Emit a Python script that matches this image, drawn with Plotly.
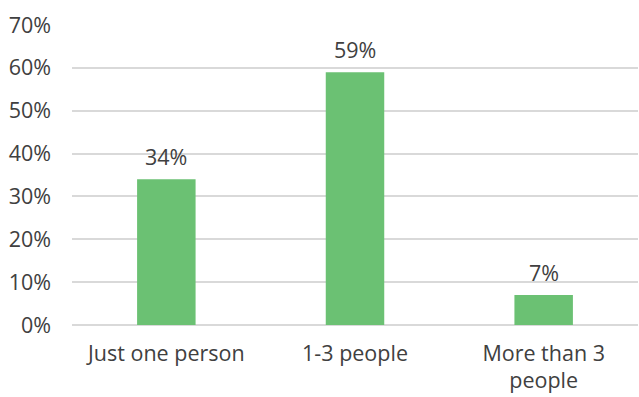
import plotly.graph_objects as go

# Survey answer categories and share of respondents (%)
categories = ["Just one person", "1-3 people", "More than 3<br>people"]
shares = [34, 59, 7]
y_ticks = [0, 10, 20, 30, 40, 50, 60, 70]
y_tick_labels = [f"{v}%" for v in y_ticks]

BAR_COLOR = "#6BC173"
TEXT_COLOR = "#404040"
GRID_COLOR = "#D9D9D9"
FONT = "Open Sans, Segoe UI, sans-serif"
FONT_SIZE = 21.5

fig = go.Figure(
    go.Bar(
        x=categories,
        y=shares,
        marker=dict(color=BAR_COLOR, line=dict(width=0)),
        hoverinfo="skip",
    )
)

# Percentage labels above each bar
for cat, val in zip(categories, shares):
    fig.add_annotation(
        x=cat, y=val, text=f"{val}%", showarrow=False,
        yanchor="bottom", yshift=6,
        font=dict(family=FONT, size=FONT_SIZE, color=TEXT_COLOR),
    )

fig.update_layout(
    width=639, height=397,
    margin=dict(l=72, r=1, t=25, b=72),
    paper_bgcolor="white", plot_bgcolor="white",
    bargap=0.69,
    showlegend=False,
    font=dict(family=FONT, size=FONT_SIZE, color=TEXT_COLOR),
)
fig.update_xaxes(
    showgrid=False, showline=False, zeroline=False,
    ticks="", ticklabelstandoff=13,
    tickfont=dict(family=FONT, size=FONT_SIZE, color=TEXT_COLOR),
)
fig.update_yaxes(
    range=[0, 70], tickmode="array", tickvals=y_ticks, ticktext=y_tick_labels,
    showgrid=True, gridcolor=GRID_COLOR, gridwidth=1.5,
    zeroline=True, zerolinecolor=GRID_COLOR, zerolinewidth=1.5,
    showline=False, ticks="", ticklabelstandoff=20,
    tickfont=dict(family=FONT, size=FONT_SIZE, color=TEXT_COLOR),
)

fig.write_html("out.html")
